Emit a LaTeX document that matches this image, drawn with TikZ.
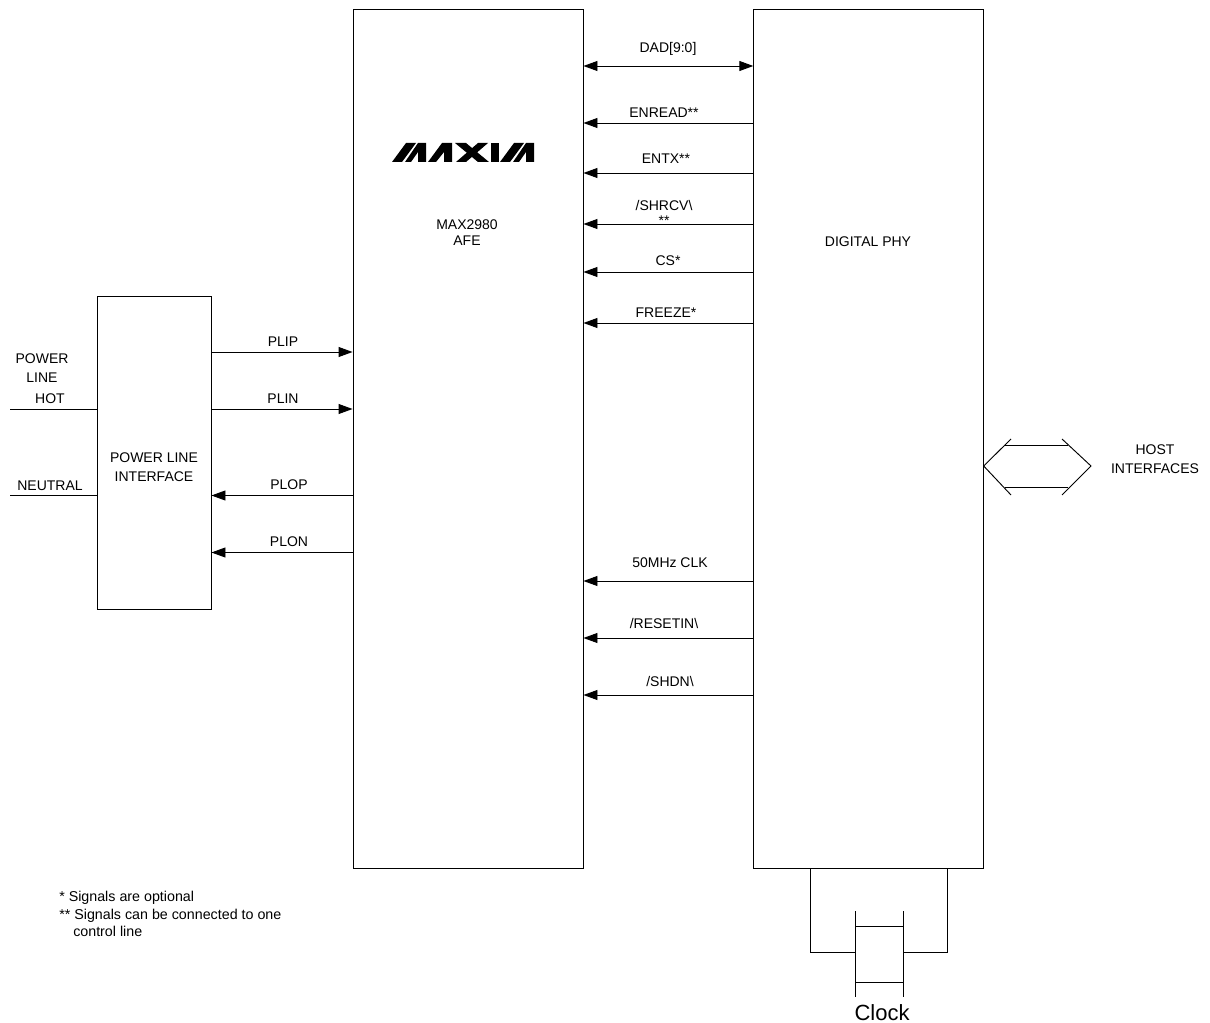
\documentclass[tikz,border=0pt]{standalone}
\usepackage{fontspec}
\setmainfont{Liberation Sans}
\usetikzlibrary{arrows.meta}
\tikzset{
  box/.style={draw=black,line width=0.7pt,inner sep=0pt,fill=none},
  wire/.style={draw=black,line width=0.7pt},
  sig/.style={wire,-{Triangle[length=10.5pt,width=7.5pt]}},
  sigboth/.style={wire,{Triangle[length=10.5pt,width=7.5pt]}-{Triangle[length=10.5pt,width=7.5pt]}},
  lab/.style={inner sep=0pt,align=center,yshift=-0.75pt,font=\fontsize{10.5}{14}\selectfont},
  tight/.style={lab,font=\fontsize{10.5}{12}\selectfont},
  small/.style={inner sep=0pt,align=left,font=\fontsize{10.7}{13}\selectfont},
  big/.style={inner sep=0pt,anchor=base,font=\fontsize{16.5}{18}\selectfont},
  logo/.style={fill=black,draw=none}
}
\begin{document}
\begin{tikzpicture}[x=0.75pt,y=-0.75pt]
\useasboundingbox (0,0) rectangle (1210,1023);
% blocks
\node[box,minimum width=172.5pt,minimum height=644.25pt] (afe) at (468,438.5) {};
\node[box,minimum width=172.1pt,minimum height=644.25pt] (phy) at (868.5,438.5) {};
\node[box,minimum width=85.5pt,minimum height=234.75pt] (pli) at (154,452.5) {};
% block labels
\node[tight] (afetext) at (467,232) {MAX2980\\AFE};
\node[lab] (phytext) at (868,241) {DIGITAL PHY};
\node[lab] (plitext) at (154,466) {POWER LINE\\INTERFACE};
% logo
\path[logo] (392,162) -- (402,162) -- (416,143) -- (406,143) -- cycle;
\path[logo] (405,162) -- (411,162) -- (418,152) -- (418,162) -- (426,162) -- (426,143) -- (418,143) -- cycle;
\path[logo] (428,162) -- (436,162) -- (444,152) -- (444,162) -- (452,162) -- (452,143) -- (442,143) -- cycle;
\path[logo] (455,143) -- (466,143) -- (489,162) -- (478,162) -- cycle;
\path[logo] (456,162) -- (466,162) -- (488,143) -- (478,143) -- cycle;
\path[logo] (491,143) -- (499,143) -- (499,162) -- (491,162) -- cycle;
\path[logo] (500,162) -- (510,162) -- (524,143) -- (514,143) -- cycle;
\path[logo] (513,162) -- (519,162) -- (526,152) -- (526,162) -- (534,162) -- (534,143) -- (526,143) -- cycle;
% digital phy to afe
\draw[sigboth] (phy.west |- 0,66) -- (afe.east |- 0,66);
\foreach \yy in {123,173,224,272,323,581,638,695}
  \draw[sig] (phy.west |- 0,\yy) -- (afe.east |- 0,\yy);
\node[lab] (dad) at (668,48) {DAD[9:0]};
\node[lab] (enread) at (664,112) {ENREAD**};
\node[lab] (entx) at (666,158) {ENTX**};
\node[lab] (shrcv) at (664,204) {/SHRCV\textbackslash};
\node[lab] (shrcvs) at (664,220) {**};
\node[lab] (cs) at (668,260) {CS*};
\node[lab] (freeze) at (666,312) {FREEZE*};
\node[lab] (clk) at (670,562) {50MHz CLK};
\node[lab] (reset) at (664,622) {/RESETIN\textbackslash};
\node[lab] (shdn) at (670,680) {/SHDN\textbackslash};
% plc interface to afe
\draw[sig] (pli.east |- 0,352) -- (afe.west |- 0,352);
\draw[sig] (pli.east |- 0,409) -- (afe.west |- 0,409);
\draw[sig] (afe.west |- 0,495.5) -- (pli.east |- 0,495.5);
\draw[sig] (afe.west |- 0,552.5) -- (pli.east |- 0,552.5);
\node[lab] (plip) at (283,341) {PLIP};
\node[lab] (plin) at (283,398) {PLIN};
\node[lab] (plop) at (289,484) {PLOP};
\node[lab] (plon) at (289,541) {PLON};
% power line
\coordinate (hot) at (10,409);
\coordinate (neutral) at (10,495.5);
\draw[wire] (hot) -- (pli.west |- hot);
\draw[wire] (neutral) -- (pli.west |- neutral);
\node[lab] (pwr) at (42,358) {POWER};
\node[lab] (line) at (42,377) {LINE};
\node[lab] (hotl) at (50,398) {HOT};
\node[lab] (neul) at (50,485) {NEUTRAL};
% host interface
\coordinate (hl) at (phy.east |- 0,466);
\coordinate (hr) at (1091,466);
\coordinate (hul) at (1011,439);
\coordinate (hur) at (1062,439);
\coordinate (hll) at (1011,495);
\coordinate (hlr) at (1062,495);
\draw[wire] (hul) -- (hl) -- (hll);
\draw[wire] (hur) -- (hr) -- (hlr);
\draw[wire] (1005,445) -- (1068,445);
\draw[wire] (1005,487.5) -- (1068,487.5);
\node[lab] (host) at (1155,458) {HOST\\INTERFACES};
% clock
\coordinate (xtl) at (855,911);
\coordinate (xbl) at (855,997);
\coordinate (xtr) at (903,911);
\coordinate (xbr) at (903,997);
\draw[wire] (xtl) -- (xbl);
\draw[wire] (xtr) -- (xbr);
\draw[wire] (855,926) -- (903,926);
\draw[wire] (855,982) -- (903,982);
\draw[wire] (phy.south -| 810,0) |- (855,952);
\draw[wire] (phy.south -| 947.5,0) |- (903,952);
\node[big] (clock) at (882,1020) {Clock};
% notes
\node[small,anchor=west] (notes) at (59,914) {* Signals are optional\\** Signals can be connected to one\\\hspace*{10.5pt}control line};
\end{tikzpicture}
\end{document}
